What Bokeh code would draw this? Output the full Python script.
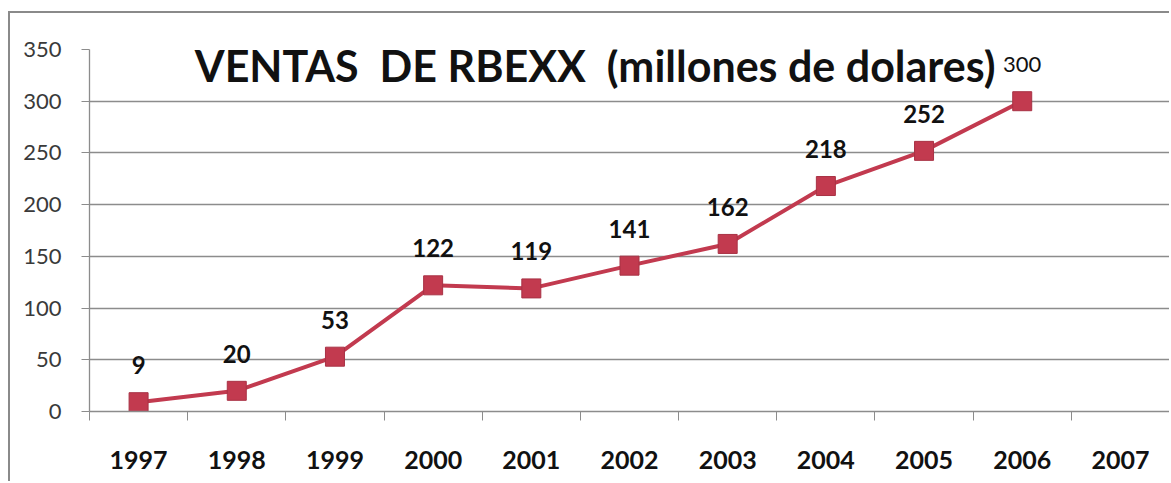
from bokeh.plotting import figure
from bokeh.models import FixedTicker, Range1d, Label, ColumnDataSource, LabelSet
from bokeh.core.properties import value
from bokeh.embed import file_html
from bokeh.resources import INLINE

years = [1997, 1998, 1999, 2000, 2001, 2002, 2003, 2004, 2005, 2006]
all_years = [1997, 1998, 1999, 2000, 2001, 2002, 2003, 2004, 2005, 2006, 2007]
sales = [9, 20, 53, 122, 119, 141, 162, 218, 252, 300]
y_ticks = [0, 50, 100, 150, 200, 250, 300, 350]
title_text = "VENTAS\u00a0\u00a0DE RBEXX\u00a0\u00a0(millones de dolares)"

RED = "#c23a4f"

p = figure(width=1161, height=470, output_backend="svg", toolbar_location=None,
           x_range=Range1d(1996.5, 2007.5), y_range=Range1d(0, 350),
           min_border_left=79, min_border_right=2, min_border_top=36, min_border_bottom=72)
p.margin = (11, 0, 0, 8)
p.styles = {"border-left": "2px solid #8a8a8a", "border-top": "2px solid #8a8a8a"}
p.outline_line_color = None
p.background_fill_color = "white"
p.border_fill_color = "white"

# grid
p.xgrid.grid_line_color = None
p.ygrid.grid_line_color = "#8c8c8c"
p.ygrid.grid_line_width = 1.3
p.ygrid.ticker = FixedTicker(ticks=y_ticks)

# y axis
p.yaxis.ticker = FixedTicker(ticks=y_ticks)
p.yaxis.axis_line_color = "#8c8c8c"
p.yaxis.axis_line_width = 1.3
p.yaxis.major_tick_line_color = "#8c8c8c"
p.yaxis.major_tick_out = 8
p.yaxis.major_tick_in = 0
p.yaxis.minor_tick_line_color = None
p.yaxis.major_label_text_font = "Lato"
p.yaxis.major_label_text_font_size = "22px"
p.yaxis.major_label_text_color = "#3a3a3a"
p.yaxis.major_label_standoff = 20

# x axis
p.xaxis.ticker = FixedTicker(ticks=all_years, minor_ticks=[y - 0.5 for y in all_years] + [2007.5])
p.xaxis.axis_line_color = "#8c8c8c"
p.xaxis.axis_line_width = 1.3
p.xaxis.major_tick_line_color = None
p.xaxis.minor_tick_line_color = "#8c8c8c"
p.xaxis.minor_tick_out = 9
p.xaxis.minor_tick_in = 0
p.xaxis.major_label_text_font = "Lato"
p.xaxis.major_label_text_font_style = "bold"
p.xaxis.major_label_text_font_size = "25px"
p.xaxis.major_label_text_color = "#111111"
p.xaxis.major_label_standoff = 30

src = ColumnDataSource(dict(x=years, y=sales))
p.line("x", "y", source=src, line_color=RED, line_width=4)
p.scatter("x", "y", source=src, marker="square", size=19, fill_color=RED,
          line_color="#a83245", line_width=1)

lab_src = ColumnDataSource(dict(x=years[:-1], y=sales[:-1], t=[str(v) for v in sales[:-1]]))
p.add_layout(LabelSet(x="x", y="y", text="t", source=lab_src, y_offset=37,
                      text_align="center", text_baseline="middle",
                      text_font=value("Lato"), text_font_style="bold",
                      text_font_size="24px", text_color="#111111"))
p.add_layout(Label(x=years[-1], y=sales[-1], text=str(sales[-1]), y_offset=37,
                   text_align="center", text_baseline="middle",
                   text_font="Lato", text_font_size="22px", text_color="#111111"))

p.add_layout(Label(x=2001.65, y=335, text=title_text,
                   text_align="center", text_baseline="alphabetic",
                   text_font="Lato", text_font_style="bold",
                   text_font_size="43px", text_color="#111111"))

open("out.html", "w").write(file_html(p, INLINE))
